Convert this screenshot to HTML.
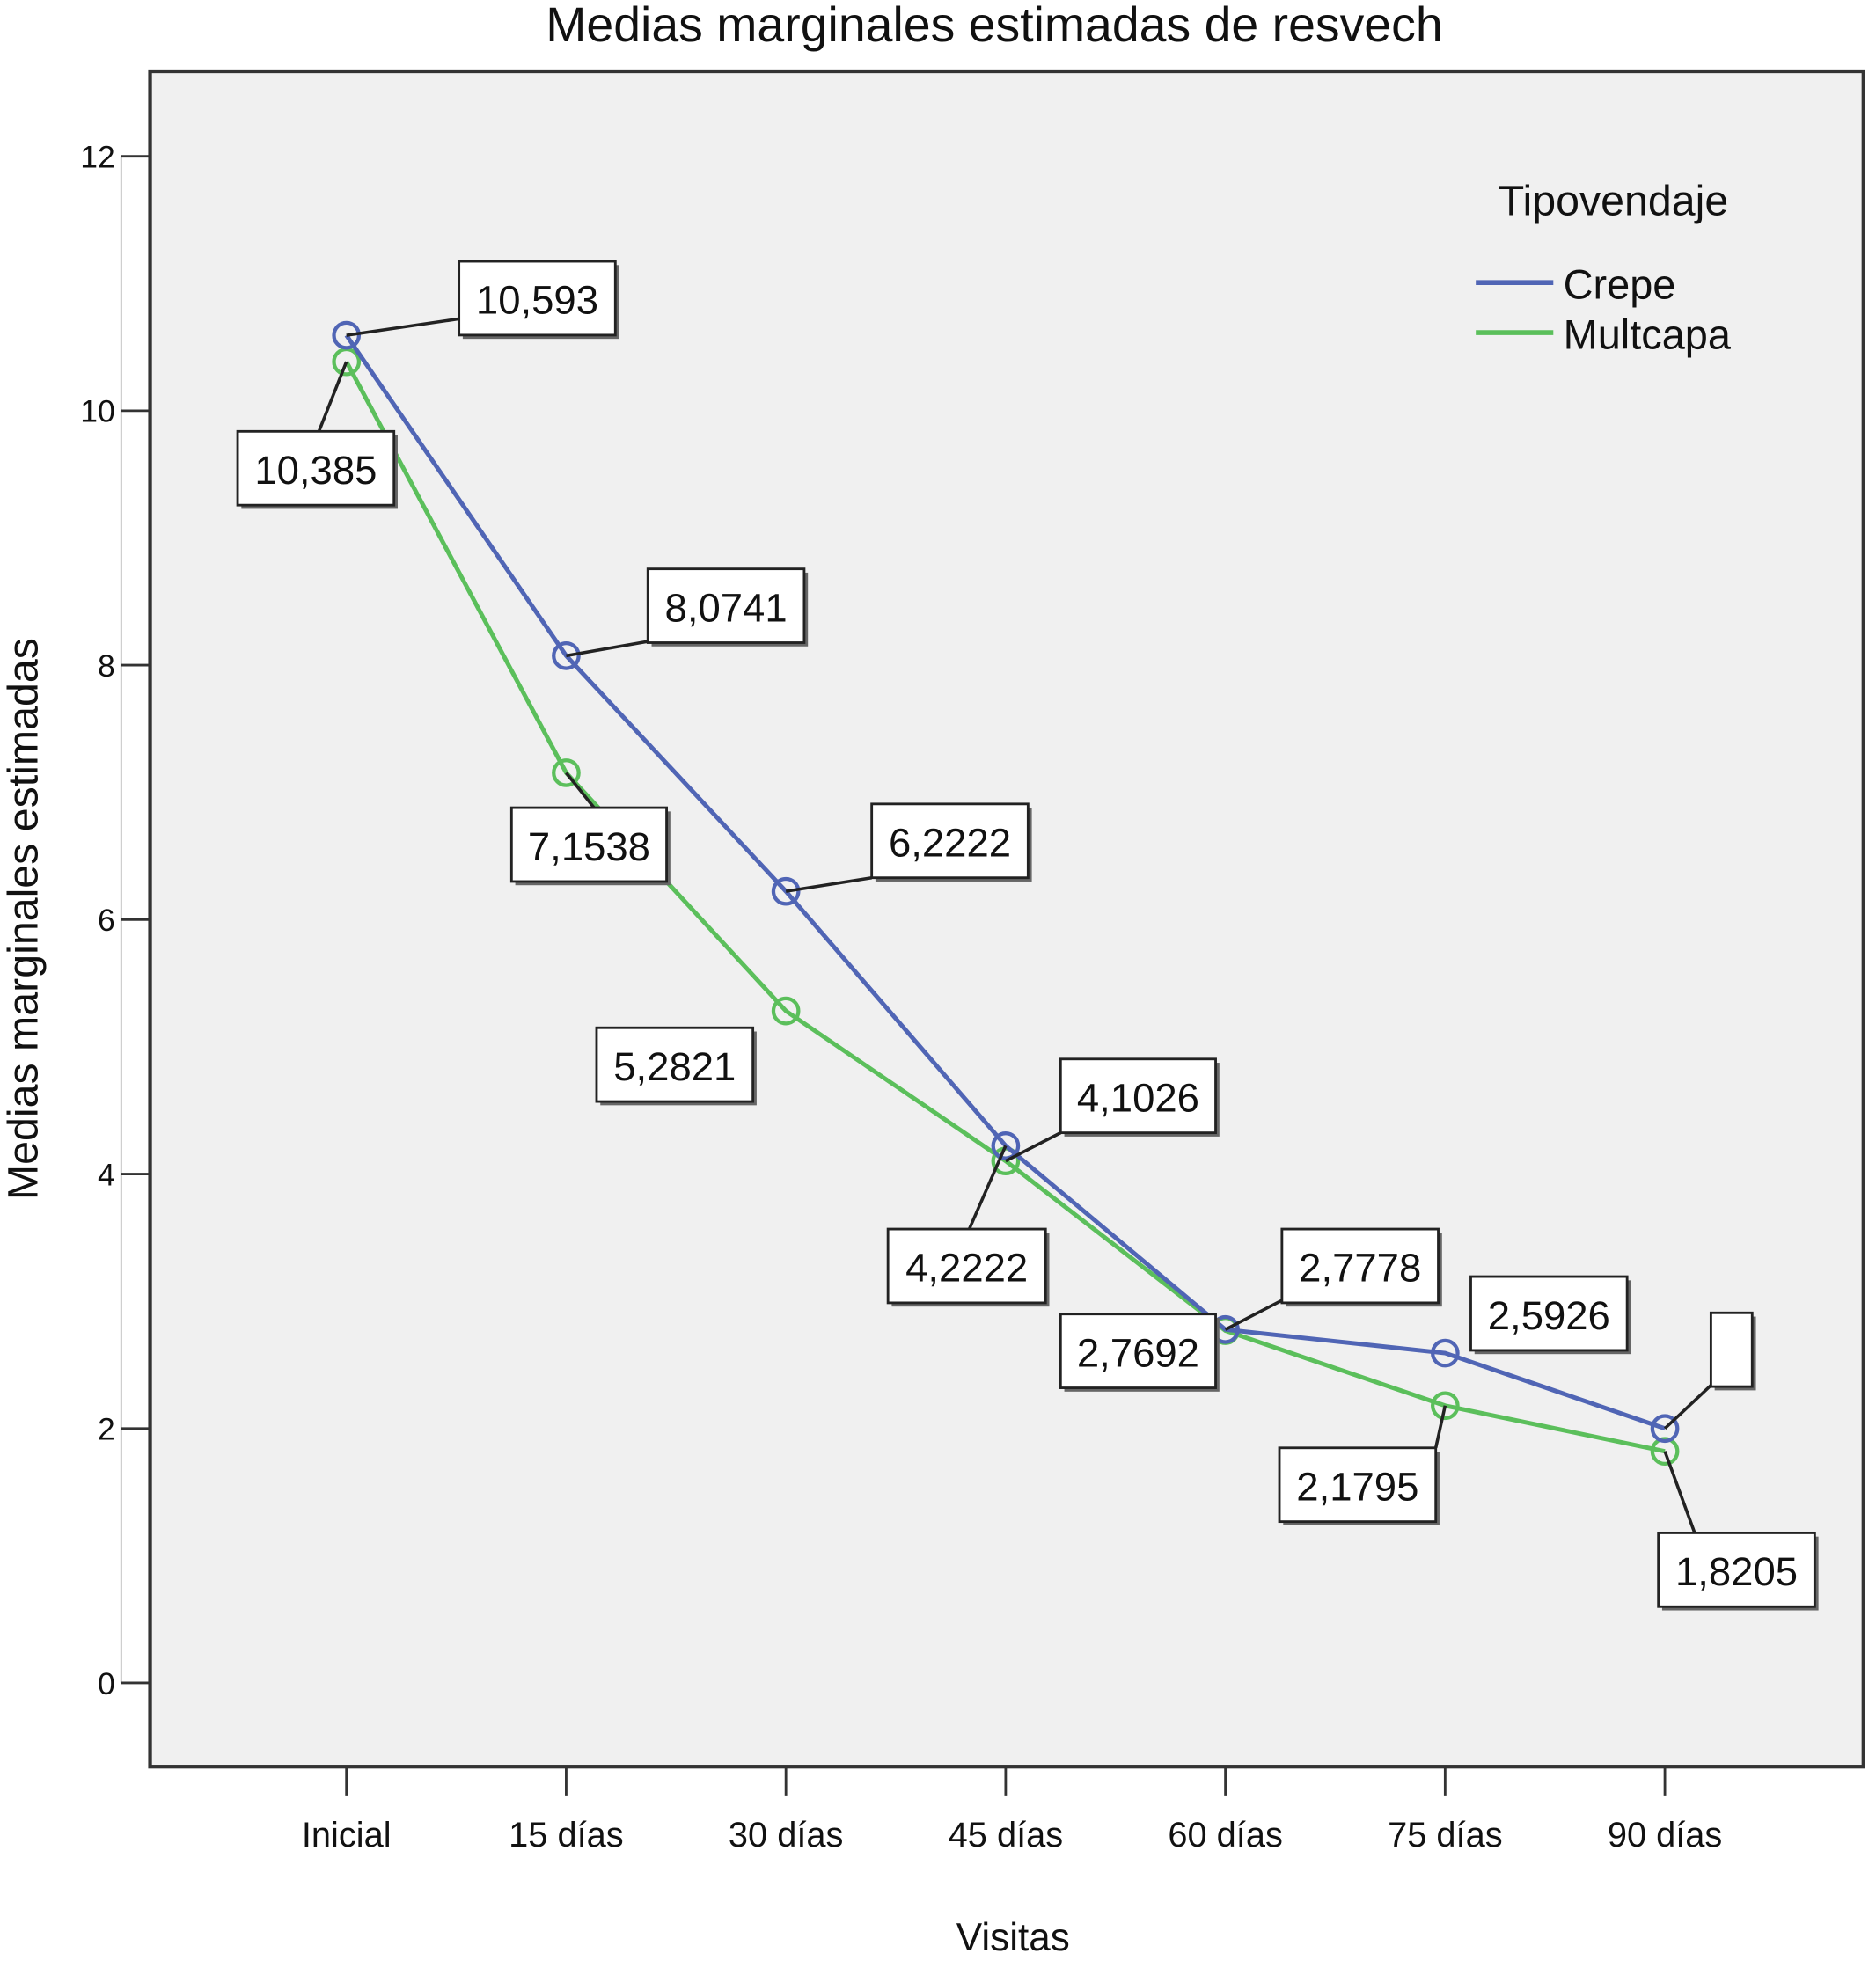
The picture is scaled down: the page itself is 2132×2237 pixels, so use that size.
<!DOCTYPE html>
<html><head><meta charset="utf-8"><style>
html,body{margin:0;padding:0;background:#fff}
svg{display:block}
text{font-family:"Liberation Sans",Arial,sans-serif;fill:#111}
</style></head><body>
<svg id="chart" width="2132" height="2237" viewBox="0 0 1500 1574" preserveAspectRatio="none" xmlns="http://www.w3.org/2000/svg">
<text x="795" y="33" font-size="39" text-anchor="middle">Medias marginales estimadas de resvech</text>
<rect x="120" y="57" width="1370" height="1356" fill="#f0f0f0" stroke="#333" stroke-width="3"/>
<line x1="97" y1="125" x2="97" y2="1346" stroke="#ccc" stroke-width="1.5"/>
<g id="yaxis"></g>
<g id="xaxis"></g>
<text transform="translate(30,735) rotate(-90)" font-size="34" text-anchor="middle">Medias marginales estimadas</text>
<text x="810" y="1560" font-size="31" text-anchor="middle">Visitas</text>
<g id="series"></g>
<g id="labels"></g>
<g>
<text x="1290" y="172" font-size="34" text-anchor="middle">Tipovendaje</text>
<line x1="1180" y1="226" x2="1242" y2="226" stroke="#5065b5" stroke-width="4"/>
<text x="1250" y="239" font-size="33">Crepe</text>
<line x1="1180" y1="266" x2="1242" y2="266" stroke="#5bbf5b" stroke-width="4"/>
<text x="1250" y="279" font-size="33">Multcapa</text>
</g>
</svg>
<script>
const categories = ["Inicial","15 días","30 días","45 días","60 días","75 días","90 días"];
const crepe = [10.593, 8.0741, 6.2222, 4.2222, 2.7778, 2.5926, 2.0];
const multcapa = [10.385, 7.1538, 5.2821, 4.1026, 2.7692, 2.1795, 1.8205];
const yTicks = [0, 2, 4, 6, 8, 10, 12];
const NS = "http://www.w3.org/2000/svg";
function yS(v){return 1346 - 101.75*v;}
function xS(i){return 277 + 175.7*i;}
function mk(tag, attrs, parent){const e=document.createElementNS(NS,tag);for(const k in attrs)e.setAttribute(k,attrs[k]);parent.appendChild(e);return e;}
const ya=document.getElementById('yaxis');
yTicks.forEach(t=>{
  const l=mk('line',{x1:97,x2:120,y1:yS(t),y2:yS(t),stroke:'#333','stroke-width':2},ya);
  
  
  const tx=mk('text',{x:92,y:yS(t)+9,'font-size':25,'text-anchor':'end'},ya);
  tx.textContent=t;
  
  
});
const xa=document.getElementById('xaxis');
categories.forEach((c,i)=>{
  const l=mk('line',{x1:xS(i),x2:xS(i),y1:1413,y2:1436,stroke:'#333','stroke-width':2},xa);
  
  
  const tx=mk('text',{x:xS(i),y:1477,'font-size':28,'text-anchor':'middle'},xa);
  tx.textContent=c;
  
  
});
const sg=document.getElementById('series');
function drawSeries(vals,color,name){
  const p=mk('polyline',{points:vals.map((v,i)=>xS(i)+','+yS(v)).join(' '),fill:'none',stroke:color,'stroke-width':3.5},sg);
  
  
  vals.forEach((v,i)=>{
    const c=mk('circle',{cx:xS(i),cy:yS(v),r:10,fill:'none',stroke:color,'stroke-width':3},sg);
    
    
  });
}
drawSeries(multcapa,'#5bbf5b','multcapa');
drawSeries(crepe,'#5065b5','crepe');
// label boxes: [series, index, boxX, boxY, boxW, leaderEndX, leaderEndY, showText]
const labelLayout=[
 ['c',0,367,209,125,367,255,1],['m',0,190,345,125,255,345,1],
 ['c',1,518,455,125,518,513,1],['m',1,409,646,124,475,646,1],
 ['c',2,697,643,125,697,702,1],['m',2,477,822,125,null,null,1],
 ['m',3,848,847,124,848,906,1],['c',3,710,983,126,775,983,1],
 ['c',4,1025,983,125,1025,1040,1],['m',4,848,1051,124,null,null,1],
 ['c',5,1176,1021,125,null,null,1],['m',5,1023,1158,125,1148,1158,1],
 ['c',6,1368,1050,33,1368,1108,0],['m',6,1326,1226,125,1355,1226,1]
];
const lg=document.getElementById('labels');
labelLayout.forEach(L=>{
  const vals=L[0]==='c'?crepe:multcapa;
  const v=vals[L[1]];
  if(L[5]!==null){
    const ln=mk('line',{x1:xS(L[1]),y1:yS(v),x2:L[5],y2:L[6],stroke:'#222','stroke-width':2.5},lg);
    
    
  }
  const sh=mk('rect',{x:L[2]+3,y:L[3]+3,width:L[4],height:59,fill:'#666'},lg);
  
  
  const r=mk('rect',{x:L[2],y:L[3],width:L[4],height:59,fill:'#fff',stroke:'#222','stroke-width':2},lg);
  
  
  if(L[7]){
    const t=mk('text',{x:L[2]+L[4]/2,y:L[3]+42,'font-size':32,'text-anchor':'middle'},lg);
    t.textContent=String(v).replace('.',',');
    
    
  }
});
</script>
</body></html>
